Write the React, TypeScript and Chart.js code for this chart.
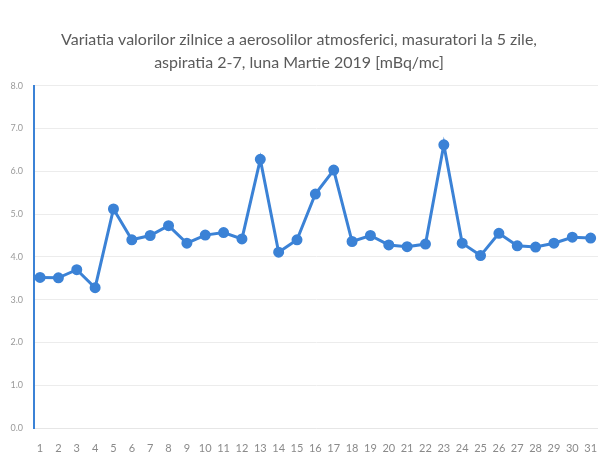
import React, { useEffect, useRef } from "react";
import { Chart, registerables } from "chart.js";

Chart.register(...registerables);

const days: string[] = [
  "1","2","3","4","5","6","7","8","9","10","11","12","13","14","15","16",
  "17","18","19","20","21","22","23","24","25","26","27","28","29","30","31",
];
const values: number[] = [
  3.52, 3.51, 3.70, 3.28, 5.12, 4.40, 4.50, 4.73, 4.32, 4.51, 4.57, 4.42, 6.28, 4.11, 4.40, 5.47,
  6.03, 4.36, 4.50, 4.28, 4.24, 4.30, 6.62, 4.32, 4.03, 4.55, 4.26, 4.23, 4.32, 4.46, 4.44,
];
const titleLines: string[] = [
  "Variatia valorilor zilnice a aerosolilor atmosferici, masuratori la 5 zile,",
  "aspiratia 2-7, luna Martie 2019 [mBq/mc]",
];

export default function App() {
  const ref = useRef<HTMLCanvasElement | null>(null);
  useEffect(() => {
    document.body.style.margin = "0";
    const ctx = ref.current!;
    const chart = new Chart(ctx, {
      type: "line",
      data: {
        datasets: [
          {
            data: days.map((d, i) => ({ x: Number(d), y: values[i] })),
            borderColor: "#3b82d6",
            backgroundColor: "#3b82d6",
            borderWidth: 3,
            pointRadius: 4,
            pointBackgroundColor: "#3b82d6",
            pointBorderColor: "#3b82d6",
            tension: 0,
          },
        ],
      },
      options: {
        animation: false,
        responsive: false,
        layout: { autoPadding: false, padding: { left: 0, right: 0, top: 0, bottom: 0 } },
        plugins: {
          legend: { display: false },
          tooltip: { enabled: false },
          title: {
            display: true,
            text: titleLines,
            color: "#5a5a5a",
            font: { family: "Lato", size: 16, weight: "normal", lineHeight: 1.4 },
            padding: { top: 29, bottom: 12 },
          },
        },
        scales: {
          x: {
            type: "linear",
            min: 0.67,
            max: 31.4,
            grid: { display: false, drawTicks: false },
            border: { display: true, color: "#e6e6e6" },
            afterBuildTicks: (axis: any) => {
              axis.ticks = days.map((d) => ({ value: Number(d) }));
            },
            afterFit: (axis: any) => {
              axis.height = 29;
              axis.paddingRight = 0;
              axis.paddingLeft = 0;
            },
            ticks: {
              autoSkip: false,
              maxRotation: 0,
              color: "#8a8a8a",
              font: { family: "Lato", size: 11 },
              padding: 14,
              callback: (v: any) => {
                const i = Math.round(Number(v)) - 1;
                return days[i] ?? "";
              },
            },
          },
          y: {
            min: 0,
            max: 8,
            grid: { color: "#ececec", drawTicks: false },
            border: { display: true, color: "#3b82d6", width: 2 },
            afterFit: (axis: any) => {
              axis.width = 34;
            },
            ticks: {
              stepSize: 1,
              color: "#9a9a9a",
              font: { family: "Lato", size: 9 },
              padding: 11,
              callback: (v: any) => Number(v).toFixed(1),
            },
          },
        },
      },
    });
    return () => chart.destroy();
  }, []);
  return <canvas ref={ref} width={598} height={457} style={{ display: "block" }} />;
}
